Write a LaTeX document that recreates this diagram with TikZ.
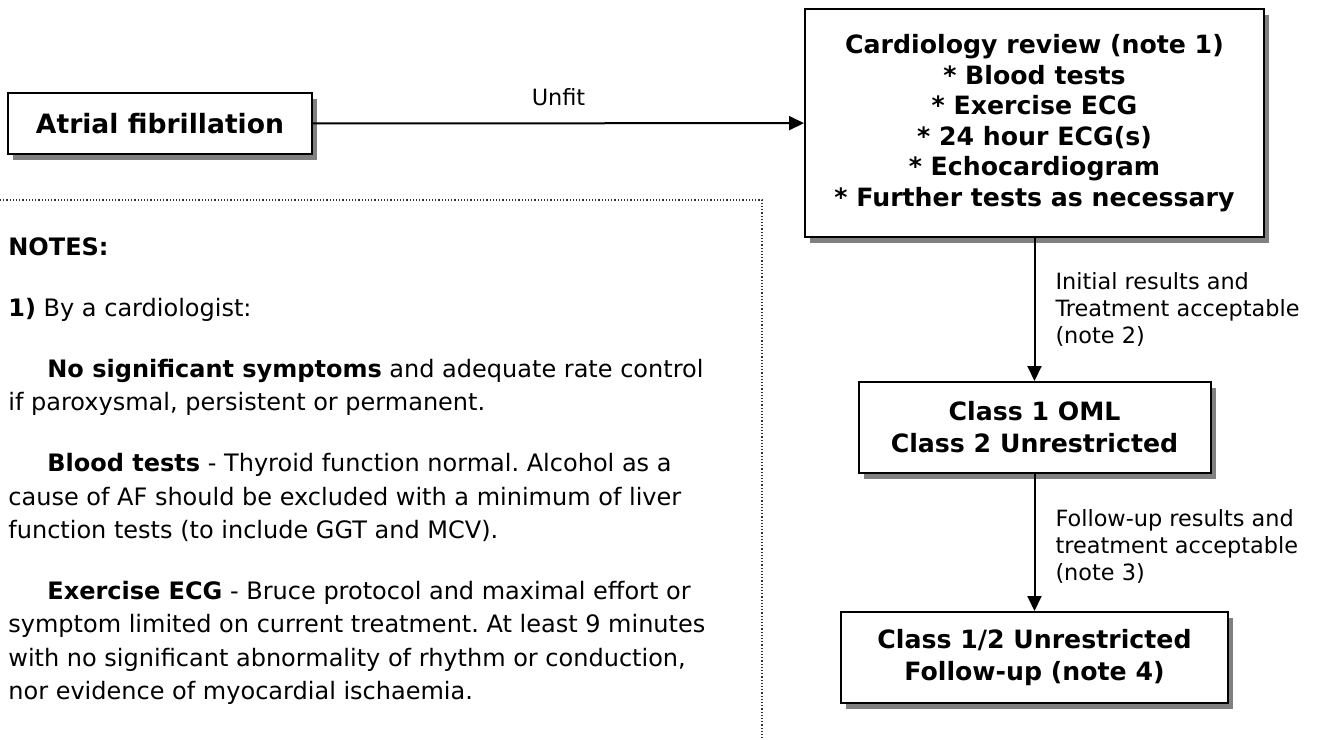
\documentclass[tikz,border=0pt]{standalone}
\usepackage{fontspec}
\setmainfont{DejaVu Sans}
\usetikzlibrary{arrows.meta, positioning, shadows}
\frenchspacing
\tikzset{
    box/.style = {rectangle, draw=black, fill=white, line width=1pt, align=center, inner sep=0pt,
        font=\bfseries\fontsize{12.6}{15.25}\selectfont,
        drop shadow={shadow xshift=2.5pt, shadow yshift=-3pt, fill=gray, opacity=1}},
    arrow/.style = {line width=1pt, -{Triangle[length=7.5pt, width=7pt]}},
    lbl/.style = {inner sep=0pt, align=left, font=\fontsize{11.2}{13.5}\selectfont},
    notesframe/.style = {densely dotted, line width=0.6pt, draw=black!80}
}

\begin{document}
\begin{tikzpicture}[x=0.5pt, y=-0.5pt, node distance=70pt]
\useasboundingbox (0,0) rectangle (1341,740);
% Nodes
\node (af) [box, minimum width=152pt, minimum height=30.5pt, font=\bfseries\fontsize{13.3}{16}\selectfont] at (160,123.5) {Atrial fibrillation};
\node (review) [box, minimum width=229.5pt, minimum height=114pt] at (1034.5,123) {
    Cardiology review (note 1)\\
    * Blood tests\\
    * Exercise ECG\\
    * 24 hour ECG(s)\\
    * Echocardiogram\\
    * Further tests as necessary};
\node (class1) [box, minimum width=176pt, minimum height=45.5pt, below=71.5pt of review, font=\bfseries\fontsize{12.6}{16}\selectfont] {Class 1 OML\\Class 2 Unrestricted};
\node (class12) [box, minimum width=193.5pt, minimum height=45.5pt, below=68.5pt of class1, font=\bfseries\fontsize{12.6}{16}\selectfont] {Class 1/2 Unrestricted\\Follow-up (note 4)};

% Notes
\draw [notesframe] (0,200) -| (762,742);
\node (notes) [anchor=north west, inner sep=0pt, align=left, font=\fontsize{12}{16.7}\selectfont] at (8,237) {
    \textbf{NOTES:}\\[13.8pt]
    \textbf{1)} By a cardiologist:\\[13.8pt]
    \hspace*{19.5pt}\textbf{No significant symptoms} and adequate rate control\\
    if paroxysmal, persistent or permanent.\\[13.8pt]
    \hspace*{19.5pt}\textbf{Blood tests} - Thyroid function normal. Alcohol as a\\
    cause of AF should be excluded with a minimum of liver\\
    function tests (to include GGT and MCV).\\[13.8pt]
    \hspace*{19.5pt}\textbf{Exercise ECG} - Bruce protocol and maximal effort or\\
    symptom limited on current treatment. At least 9 minutes\\
    with no significant abnormality of rhythm or conduction,\\
    nor evidence of myocardial ischaemia.};

% Arrows
\draw [arrow] (af) -- node[above=8pt, lbl] {Unfit} (review);
\draw [arrow] (review) -- node[right=10pt, lbl] {Initial results and\\Treatment acceptable\\(note 2)} (class1);
\draw [arrow] (class1) -- node[right=10pt, yshift=-2pt, lbl] {Follow-up results and\\treatment acceptable\\(note 3)} (class12);

\end{tikzpicture}
\end{document}
